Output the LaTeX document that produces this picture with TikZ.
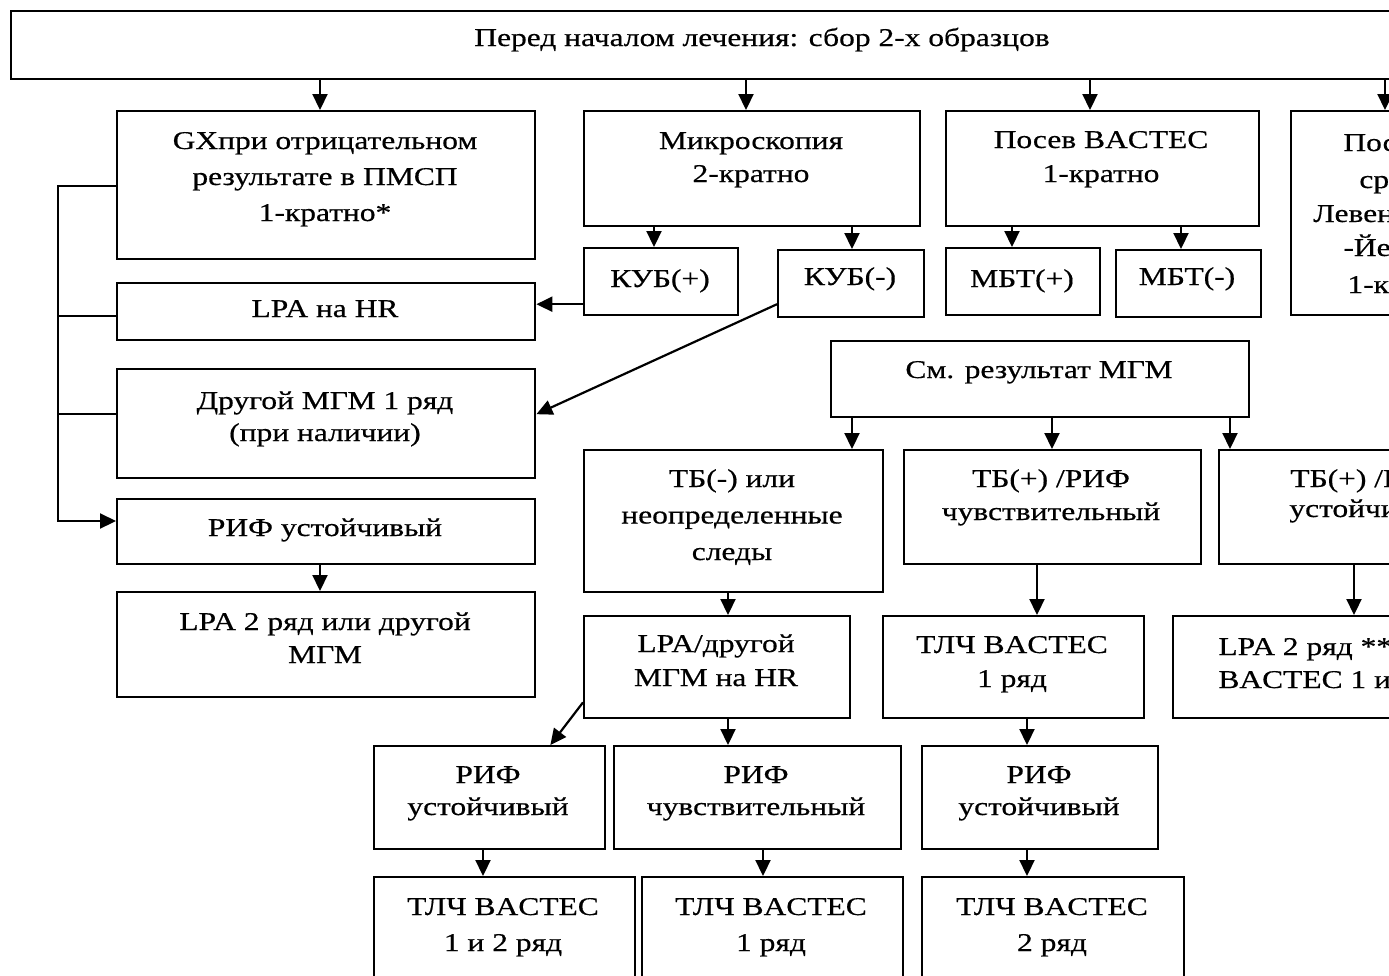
\documentclass[tikz,border=0pt]{standalone}
\usepackage{fontspec}
\setmainfont{Liberation Serif}[FakeStretch=1.23,FakeBold=0.5]
\usetikzlibrary{arrows.meta}
\begin{document}
\begin{tikzpicture}[x=0.5pt,y=-0.5pt,
  bx/.style 2 args={draw, line width=1.2pt, inner sep=0pt, anchor=north west,
     minimum width=#1*0.5pt, minimum height=#2*0.5pt},
  tx/.style={align=center, anchor=base, inner sep=0pt,
     font=\fontsize{12.8pt}{#1}\selectfont},
  tx/.default=17pt,
  tl/.style={anchor=base west, inner sep=0pt, font=\fontsize{12.8pt}{17pt}\selectfont},
  arr/.style={-{Triangle[length=8pt,width=7.5pt]}, line width=1.1pt},
  ln/.style={line width=1.1pt}]
\useasboundingbox (0,0) rectangle (1389,976);
\clip (0,0) rectangle (1389,976);
% boxes
\node[bx={1510}{68}]  (top)   at (10,10)   {};
\node[bx={418}{148}]  (gx)    at (116,110) {};
\node[bx={336}{115}]  (micro) at (583,110) {};
\node[bx={313}{115}]  (posev) at (945,110) {};
\node[bx={200}{204}]  (rbox)  at (1290,110) {};
\node[bx={154}{67}]   (kubp)  at (583,247) {};
\node[bx={146}{67}]   (kubm)  at (777,249) {};
\node[bx={154}{67}]   (mbtp)  at (945,247) {};
\node[bx={145}{67}]   (mbtm)  at (1115,249) {};
\node[bx={418}{57}]   (lpahr) at (116,282) {};
\node[bx={418}{109}]  (drmgm) at (116,368) {};
\node[bx={418}{65}]   (rifua) at (116,498) {};
\node[bx={418}{105}]  (lpatwo) at (116,591) {};
\node[bx={418}{76}]   (smres) at (830,340) {};
\node[bx={299}{142}]  (tbneg) at (583,449) {};
\node[bx={297}{114}]  (tbps)  at (903,449) {};
\node[bx={297}{114}]  (tbpr)  at (1218,449) {};
\node[bx={266}{102}]  (lpadr) at (583,615) {};
\node[bx={261}{102}]  (tlcha) at (882,615) {};
\node[bx={300}{102}]  (lpatwob) at (1172,615) {};
\node[bx={231}{103}]  (rifub) at (373,745) {};
\node[bx={287}{103}]  (rifs)  at (613,745) {};
\node[bx={236}{103}]  (rifuc) at (921,745) {};
\node[bx={261}{130}]  (tlcb)  at (373,876) {};
\node[bx={261}{130}]  (tlcc)  at (641,876) {};
\node[bx={262}{130}]  (tlcd)  at (921,876) {};
% texts (multi-line nodes are placed by the baseline of their last line)
\node[tx] (ttop) at (762,46) {Перед началом лечения: сбор 2-х образцов};
\node[tx=18pt] (tgx) at (325,221) {GXпри отрицательном\\результате в ПМСП\\1-кратно*};
\node[tx=16.5pt] (tmicro) at (751,182) {Микроскопия\\2-кратно};
\node[tx=17pt] (tposev) at (1101,182) {Посев BACTEC\\1-кратно};
\node[tx] (tkubp) at (660,287) {КУБ(+)};
\node[tx] (tkubm) at (850,285) {КУБ(-)};
\node[tx] (tmbtp) at (1022,287) {МБТ(+)};
\node[tx] (tmbtm) at (1187,285) {МБТ(-)};
\node[tx] (tlpahr) at (325,317) {LPA на HR};
\node[tx=16pt] (tdrmgm) at (325,441) {Другой МГМ 1 ряд\\(при наличии)};
\node[tx] (trifua) at (325,536) {РИФ устойчивый};
\node[tx=16.5pt] (tlpatwo) at (325,663) {LPA 2 ряд или другой\\МГМ};
\node[tx] (tsmres) at (1039,378) {См. результат МГМ};
\node[tx=18.25pt] (ttbneg) at (732,560) {ТБ(-) или\\неопределенные\\следы};
\node[tx=16.5pt] (ttbps) at (1051,520) {ТБ(+) /РИФ\\чувствительный};
\node[tx=17pt] (tlpadr) at (716,686) {LPA/другой\\МГМ на HR};
\node[tx=17pt] (ttlcha) at (1012,687) {ТЛЧ BACTEC\\1 ряд};
\node[tx=16pt] (trifub) at (488,815) {РИФ\\устойчивый};
\node[tx=16pt] (trifs) at (756,815) {РИФ\\чувствительный};
\node[tx=16pt] (trifuc) at (1039,815) {РИФ\\устойчивый};
\node[tx=18pt] (ttlcb) at (503,951) {ТЛЧ BACTEC\\1 и 2 ряд};
\node[tx=18pt] (ttlcc) at (771,951) {ТЛЧ BACTEC\\1 ряд};
\node[tx=18pt] (ttlcd) at (1052,951) {ТЛЧ BACTEC\\2 ряд};
% truncated texts at the right edge, as the reference shows them
\node[tl] (ra) at (1343,151) {Пос};
\node[tl] (rb) at (1359,188) {ср};
\node[tl] (rc) at (1313,222) {Левен};
\node[tl] (rd) at (1343,256) {-Йе};
\node[tl] (re) at (1347,293) {1-кр};
\node[tl] (rf) at (1290,487) {ТБ(+) /Р};
\node[tl] (rg) at (1289,517) {устойчив};
\node[tl] (rh) at (1218,655) {LPA 2 ряд **};
\node[tl] (ri) at (1218,688) {BACTEC 1 и};
% arrow tips
\coordinate (a1) at (320,110);
\coordinate (a2) at (746,110);
\coordinate (a3) at (1090,110);
\coordinate (a4) at (1385,110);
\coordinate (a5) at (654,247);
\coordinate (a6) at (852,249);
\coordinate (a7) at (1012,247);
\coordinate (a8) at (1181,249);
\coordinate (a9) at (320,591);
\coordinate (b1) at (852,449);
\coordinate (b2) at (1052,449);
\coordinate (b3) at (1230,449);
\coordinate (b4) at (728,615);
\coordinate (b5) at (1037,615);
\coordinate (b6) at (1354,615);
\coordinate (b7) at (728,745);
\coordinate (b8) at (1027,745);
\coordinate (b9) at (483,876);
\coordinate (c1) at (763,876);
\coordinate (c2) at (1027,876);
% vertical arrows
\draw[arr] (top.south -| a1) -- (a1);
\draw[arr] (top.south -| a2) -- (a2);
\draw[arr] (top.south -| a3) -- (a3);
\draw[arr] (top.south -| a4) -- (a4);
\draw[arr] (micro.south -| a5) -- (a5);
\draw[arr] (micro.south -| a6) -- (a6);
\draw[arr] (posev.south -| a7) -- (a7);
\draw[arr] (posev.south -| a8) -- (a8);
\draw[arr] (rifua.south -| a9) -- (a9);
\draw[arr] (smres.south -| b1) -- (b1);
\draw[arr] (smres.south -| b2) -- (b2);
\draw[arr] (smres.south -| b3) -- (b3);
\draw[arr] (tbneg.south -| b4) -- (b4);
\draw[arr] (tbps.south -| b5) -- (b5);
\draw[arr] (tbpr.south -| b6) -- (b6);
\draw[arr] (lpadr.south -| b7) -- (b7);
\draw[arr] (tlcha.south -| b8) -- (b8);
\draw[arr] (rifub.south -| b9) -- (b9);
\draw[arr] (rifs.south -| c1) -- (c1);
\draw[arr] (rifuc.south -| c2) -- (c2);
% other arrows
\draw[arr] ([yshift=-11.25pt]kubp.west) -- ([yshift=-11.25pt]kubp.west -| lpahr.east);
\draw[arr] ([yshift=-10.25pt]kubm.west) -- ([yshift=4.75pt]drmgm.east);
\draw[arr] ([yshift=8.5pt]lpadr.south west) -- ([xshift=-28pt]rifub.north east);
% left bus
\coordinate (bt) at (58,186);
\coordinate (bm) at (58,316);
\coordinate (bn) at (58,414);
\coordinate (bb) at (58,521);
\draw[arr] (bt -| gx.west) -- (bt) -- (bb) -- (bb -| rifua.west);
\draw[ln] (bm) -- (bm -| lpahr.west);
\draw[ln] (bn) -- (bn -| drmgm.west);
\end{tikzpicture}
\end{document}
